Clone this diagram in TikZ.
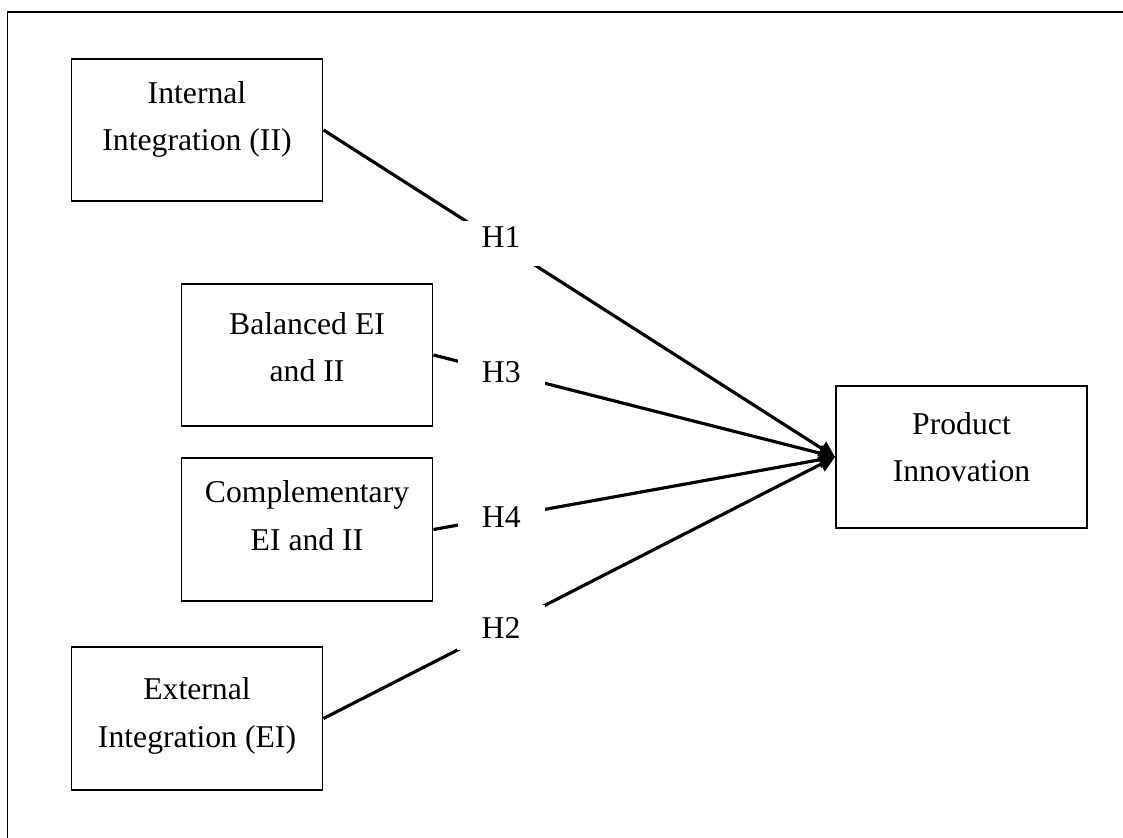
\documentclass[tikz,border=0pt]{standalone}
\usepackage{fontspec}
\setmainfont{Liberation Serif}
\usetikzlibrary{positioning,arrows.meta}
\begin{document}
\begin{tikzpicture}[x=0.3785pt,y=-0.3785pt,
  box/.style={draw=black,line width=0.75pt,minimum width=95pt,minimum height=54pt,inner sep=0pt},
  txt/.style={align=center,inner sep=0pt,font=\fontsize{12}{18}\selectfont},
  hyp/.style={fill=white,inner sep=0pt,minimum width=33pt,minimum height=17pt,font=\fontsize{12}{14}\selectfont},
  link/.style={black,line width=1.2pt,-{Triangle[length=6pt,width=6pt]}}]
\useasboundingbox (0,0) rectangle (1123,838);
\draw [black,line width=0.75pt] (7.5,838) -- (7.5,12) -- (1123,12);
\node[box] (ii) at (197,130) {};
\node[txt,below=8.7pt of ii.north] (iitext) {Internal\\Integration (II)};
\node[box] (bal) at (307,355) {};
\node[txt,below=11pt of bal.north] (baltext) {Balanced EI\\and II};
\node[box] (comp) at (307,529.5) {};
\node[txt,below=8.7pt of comp.north] (comptext) {Complementary\\EI and II};
\node[box] (ei) at (197,718.5) {};
\node[txt,below=11.7pt of ei.north] (eitext) {External\\Integration (EI)};
\node[box] (pi) at (961.5,457) {};
\node[txt,below=10.2pt of pi.north] (pitext) {Product\\Innovation};
\draw [link] (ii.east) -- node[hyp,pos=0.347,text depth=5pt] (h1) {H1} (pi.west);
\draw [link] (bal.east) -- node[hyp,pos=0.169] (h3) {H3} (pi.west);
\draw [link] (comp.east) -- node[hyp,pos=0.169] (h4) {H4} (pi.west);
\draw [link] (ei.east) -- node[hyp,pos=0.347] (h2) {H2} (pi.west);
\end{tikzpicture}
\end{document}
